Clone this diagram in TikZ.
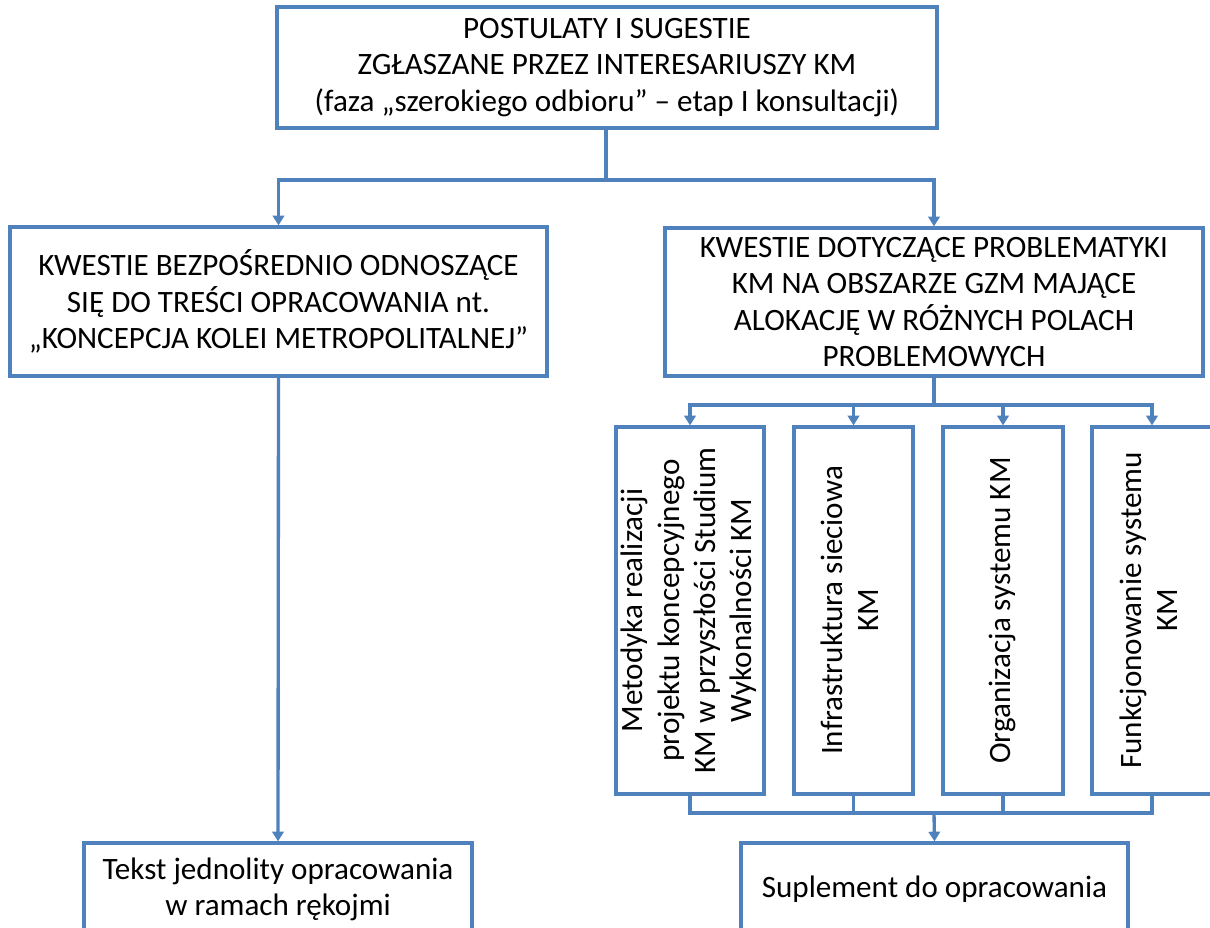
\documentclass[tikz,border=0pt]{standalone}
\usepackage{fontspec}
\usepackage{graphicx}
\setmainfont{Carlito}
\usetikzlibrary{arrows.meta}
\definecolor{linkblue}{RGB}{79,129,189}
\tikzset{
  box/.style={draw=linkblue, line width=1.9pt, fill=white, inner sep=0pt,
    align=center, font=\fontsize{17.7}{20.7}\selectfont, text=black},
  link/.style={draw=linkblue, line width=1.9pt},
  arr/.style={link, -{Triangle[length=5.5pt,width=6.5pt]}}
}
\begin{document}
\begin{tikzpicture}[x=0.02cm, y=-0.02cm]
\useasboundingbox (0,0) rectangle (1210,928);

% upper level
\node[box, minimum width=13.2cm, minimum height=2.42cm] (top) at (607,67.5)
  {POSTULATY I SUGESTIE\\ZGŁASZANE PRZEZ INTERESARIUSZY KM\\(faza „szerokiego odbioru” – etap I konsultacji)};

\node[box, minimum width=10.74cm, minimum height=2.98cm] (left) at (278.5,301.5)
  {KWESTIE BEZPOŚREDNIO ODNOSZĄCE\\SIĘ DO TREŚCI OPRACOWANIA nt.\\„KONCEPCJA KOLEI METROPOLITALNEJ”};

\node[box, minimum width=10.76cm, minimum height=2.96cm] (right) at (934,302)
  {KWESTIE DOTYCZĄCE PROBLEMATYKI\\KM NA OBSZARZE GZM MAJĄCE\\ALOKACJĘ W RÓŻNYCH POLACH\\PROBLEMOWYCH};

% problem fields
\node[box, minimum width=2.96cm, minimum height=7.34cm] (f1) at (690,610.5)
  {\rotatebox{90}{\begin{tabular}{@{}c@{}}Metodyka realizacji\\projektu koncepcyjnego\\KM w przyszłości Studium\\Wykonalności KM\end{tabular}}};
\node[box, minimum width=2.38cm, minimum height=7.34cm] (f2) at (853.5,610.5)
  {\rotatebox{90}{\begin{tabular}{@{}c@{}}Infrastruktura sieciowa\\KM\end{tabular}}};
\node[box, minimum width=2.4cm, minimum height=7.34cm] (f3) at (1003,610.5)
  {\rotatebox{90}{\begin{tabular}{@{}c@{}}Organizacja systemu KM\end{tabular}}};
\node[box, minimum width=2.4cm, minimum height=7.34cm] (f4) at (1152,610.5)
  {\rotatebox{90}{\begin{tabular}{@{}c@{}}Funkcjonowanie systemu\\KM\end{tabular}}};

% results
\node[box, minimum width=7.76cm, minimum height=1.86cm] (text) at (278,889.5)
  {Tekst jednolity opracowania\\w ramach rękojmi};
\node[box, minimum width=7.74cm, minimum height=1.86cm] (supl) at (934.5,889.5)
  {Suplement do opracowania};

% junction points
\coordinate (j1) at (606,180);
\coordinate (j2) at (934,405);
\coordinate (j3) at (934,813);

% connectors
\draw[link] (top.south -| j1) -- (j1);
\draw[arr] (j1) -| (left.north);
\draw[arr] (j1) -| (right.north);

\draw[arr] (left.south) -- (text.north);

\draw[link] (right.south) -- (j2);
\draw[arr] (j2) -| (f1.north);
\draw[arr] (j2) -| (f2.north);
\draw[arr] (j2) -| (f3.north);
\draw[arr] (j2) -| (f4.north);

\draw[link] (f1.south) |- (j3);
\draw[link] (f2.south) |- (j3);
\draw[link] (f3.south) |- (j3);
\draw[link] (f4.south) |- (j3);
\draw[arr] (j3) -- (supl.north);
\end{tikzpicture}
\end{document}
